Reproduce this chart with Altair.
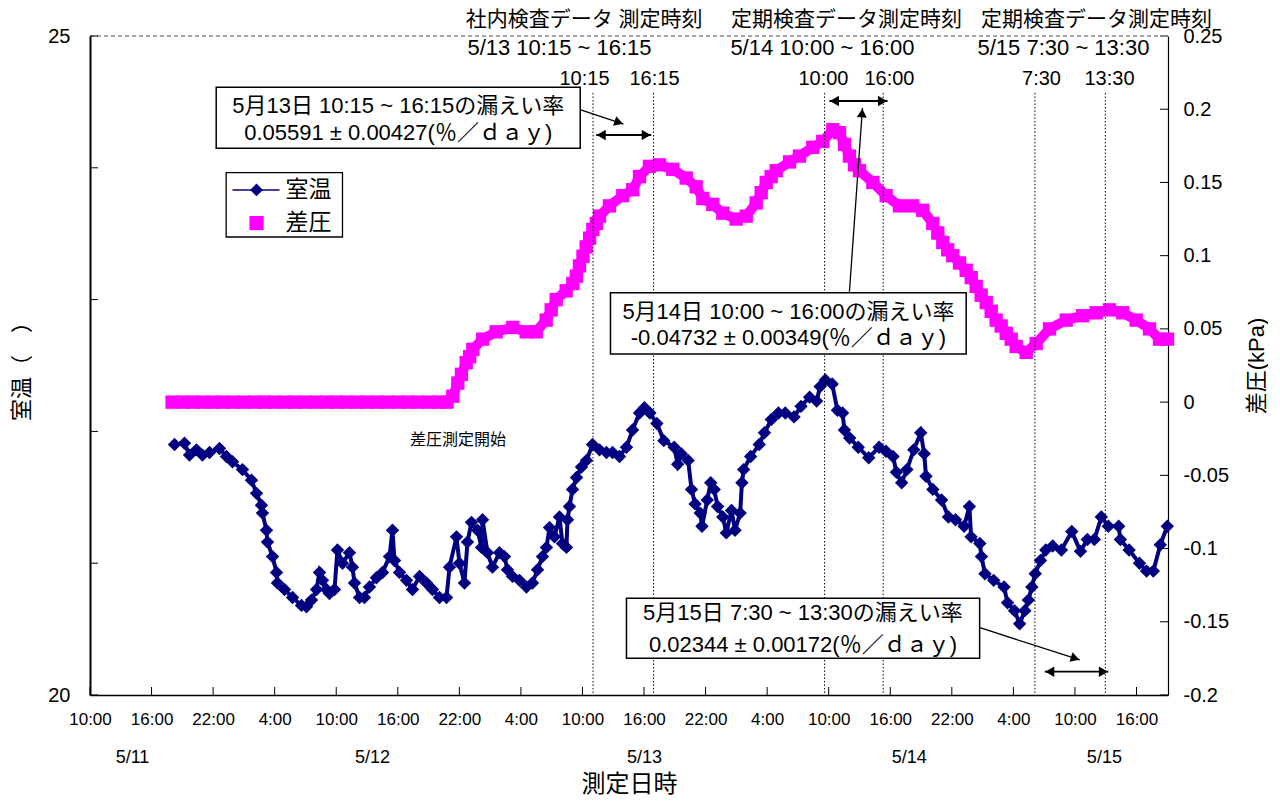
import altair as alt
import pandas as pd

# ---------------- data (hours counted from 5/11 0:00) ----------------
temp_hours = [18.24, 19.21, 19.70, 20.38, 20.96, 21.65, 22.62, 23.30, 23.89, 24.86,
              25.74, 26.23, 26.71, 26.81, 27.20, 27.30, 27.79, 28.18, 28.27, 28.96,
              29.74, 30.61, 31.10, 31.59, 32.08, 32.37, 32.66, 33.05, 33.34, 33.83,
              34.12, 34.61, 35.29, 35.58, 35.78, 36.27, 36.75, 37.24, 37.92, 38.51,
              39.19, 39.48, 39.68, 40.17, 40.85, 41.43, 42.12, 42.80, 43.38, 44.06,
              44.75, 45.04, 45.72, 46.01, 46.50, 46.79, 47.18, 47.77, 48.16, 48.26,
              48.74, 49.23, 49.91, 50.40, 50.69, 51.18, 51.86, 52.54, 53.13, 53.62,
              54.10, 54.49, 54.79, 55.27, 55.76, 56.05, 56.44, 56.54, 56.73, 57.03,
              57.42, 57.90, 58.39, 58.98, 59.66, 60.34, 60.93, 61.61, 62.29, 62.88,
              63.56, 64.04,
              64.57, 65.25, 65.93, 66.94, 67.28, 67.62, 68.30, 68.63, 68.98, 69.48,
              69.65, 70.16, 70.50, 70.84, 71.17, 71.68, 72.02, 72.53, 72.87, 73.37,
              73.54, 73.71, 74.39, 75.23, 75.74, 76.41, 77.10, 77.77, 78.62, 79.30,
              80.14, 80.82, 81.16, 81.67, 82.34, 82.85, 83.35, 83.53, 84.04, 84.88,
              85.90, 86.91, 87.58, 88.27, 88.60, 89.11, 89.62, 90.29, 90.97, 91.31,
              91.48, 92.15, 93.00, 93.67, 94.36, 95.20, 95.71, 95.88, 96.73, 96.89,
              97.23, 98.08, 99.09, 99.43, 100.11, 100.61, 101.12, 101.46, 101.80, 102.13,
              102.64, 103.16, 103.83, 104.68, 105.69, 106.54, 107.21, 107.89, 108.57, 109.25,
              110.26, 110.43, 111.28, 112.29, 112.98, 113.64, 114.32, 115.00]
temp_values = [21.90, 21.91, 21.82, 21.86, 21.82, 21.84, 21.87, 21.81, 21.77, 21.71,
               21.63, 21.53, 21.44, 21.38, 21.25, 21.16, 21.05, 20.93, 20.85, 20.80,
               20.74, 20.68, 20.67, 20.72, 20.80, 20.93, 20.87, 20.80, 20.77, 20.80,
               21.10, 21.00, 21.08, 20.97, 20.85, 20.74, 20.74, 20.82, 20.89, 20.93,
               21.05, 21.25, 21.02, 20.93, 20.87, 20.80, 20.90, 20.85, 20.80, 20.74,
               20.74, 20.97, 21.20, 21.00, 20.85, 21.16, 21.31, 21.25, 21.12, 21.33,
               21.08, 20.97, 21.08, 21.05, 20.95, 20.90, 20.87, 20.82, 20.85, 20.95,
               21.05, 21.12, 21.27, 21.20, 21.35, 21.15, 21.12, 21.33, 21.43, 21.56,
               21.65, 21.73, 21.78, 21.90, 21.86, 21.84, 21.84, 21.81, 21.88, 22.01,
               22.14, 22.18,
               22.14, 22.06, 21.93, 21.88, 21.75, 21.83, 21.78, 21.56, 21.45, 21.38,
               21.28, 21.48, 21.61, 21.56, 21.43, 21.35, 21.23, 21.40, 21.25, 21.38,
               21.61, 21.71, 21.81, 21.90, 21.99, 22.09, 22.14, 22.14, 22.11, 22.19,
               22.26, 22.23, 22.34, 22.39, 22.36, 22.16, 22.14, 22.01, 21.95, 21.88,
               21.80, 21.88, 21.85, 21.81, 21.69, 21.61, 21.71, 21.86, 21.99, 21.83,
               21.66, 21.56, 21.48, 21.35, 21.33, 21.28, 21.43, 21.20, 21.15, 21.05,
               20.92, 20.87, 20.82, 20.70, 20.64, 20.54, 20.64, 20.72, 20.82, 20.92,
               21.02, 21.10, 21.13, 21.10, 21.24, 21.09, 21.18, 21.18, 21.35, 21.28,
               21.28, 21.18, 21.10, 21.00, 20.94, 20.94, 21.14, 21.28]

press_hours = [18, 19, 20, 21, 22, 23, 24, 25, 26, 27, 28, 29, 30, 31, 32, 33, 34, 35,
               36, 37, 38, 39, 40, 41, 42, 43, 44, 44.8,
               45.36, 45.85, 46.2, 46.67, 47.0, 47.31, 48.28, 49.59, 51.21, 52.51, 53.49, 54.46,
               54.95, 55.44, 56.41, 57.06, 57.4, 57.71, 58.05, 58.36, 58.7, 59.01, 59.35, 59.66,
               60.63, 61.93, 62.90, 63.56, 64.53, 65.51, 66.80, 68.11, 69.08, 69.73,
               70.70, 71.68, 72.98, 73.96, 74.93, 75.42, 75.91, 76.39, 76.88, 78.18,
               79.15, 80.45, 81.42, 82.40, 83.05, 83.54, 84.02, 84.51, 85.00, 86.30,
               87.60, 88.90, 90.19, 91.17, 92.14, 92.63, 93.12, 93.60, 94.09, 94.75,
               95.40, 95.89, 96.37, 96.86, 97.35, 97.84, 98.32, 98.81, 99.30, 99.79,
               100.27, 101.25, 102.22, 103.52, 105.15, 106.76, 108.07, 109.37, 110.66,
               111.97, 113.27, 114.24, 115.02]
press_values = [0, 0, 0, 0, 0, 0, 0, 0, 0, 0, 0, 0, 0, 0, 0, 0, 0, 0,
                0, 0, 0, 0, 0, 0, 0, 0, 0, 0,
                0.004, 0.013, 0.019, 0.027, 0.031, 0.036, 0.043, 0.048, 0.051, 0.048, 0.048, 0.056,
                0.063, 0.070, 0.076, 0.081, 0.086, 0.093, 0.0996, 0.106, 0.112, 0.118, 0.122, 0.127,
                0.134, 0.141, 0.145, 0.154, 0.161, 0.162, 0.159, 0.153, 0.147, 0.139,
                0.135, 0.129, 0.125, 0.127, 0.136, 0.143, 0.150, 0.154, 0.158, 0.164,
                0.168, 0.174, 0.178, 0.186, 0.184, 0.176, 0.168, 0.162, 0.158, 0.150,
                0.141, 0.134, 0.134, 0.131, 0.122, 0.1155, 0.109, 0.104, 0.100, 0.095,
                0.090, 0.085, 0.079, 0.073, 0.068, 0.062, 0.056, 0.052, 0.047, 0.043,
                0.038, 0.034, 0.040, 0.050, 0.056, 0.059, 0.061, 0.063, 0.061,
                0.056, 0.050, 0.043, 0.043]

x_ticks = [10, 16, 22, 28, 34, 40, 46, 52, 58, 64, 70, 76, 82, 88, 94, 100, 106, 112]
t_ticks = [20, 21, 22, 23, 24, 25]
p_ticks = [-0.2, -0.15, -0.1, -0.05, 0, 0.05, 0.1, 0.15, 0.2, 0.25]

date_labels = ["5/11", "5/12", "5/13", "5/14", "5/15"]
date_hours = [14.14, 37.53, 64.04, 89.86, 108.87]
date_level = 19.52

# measurement-time marker lines
vline_hours = [59.03, 64.93, 81.60, 87.31, 102.10, 108.96]
vline_top = 24.568

# header texts
head1_text = ["社内検査データ 測定時刻", "定期検査データ測定時刻", "定期検査データ測定時刻"]
head1_hours = [58.16, 83.73, 108.10]
head1_level = 25.122
head2_text = ["5/13  10:15 ~ 16:15", "5/14 10:00 ~ 16:00", "5/15 7:30 ~ 13:30"]
head2_hours = [55.76, 81.39, 104.88]
head2_level = 24.909
head3_text = ["10:15", "16:15", "10:00", "16:00", "7:30", "13:30"]
head3_hours = [58.20, 65.02, 81.49, 87.92, 102.74, 109.37]
head3_level = 24.674

# double-headed interval arrows
span_start = [59.34, 82.07, 103.06]
span_end = [64.70, 87.73, 109.26]
span_level = [24.249, 24.507, 20.177]

# pointer arrows (start -> tip)
ptr_h = [57.39, 84.02, 96.21]
ptr_v = [24.451, 23.060, 20.524]
ptr_h2 = [62.00, 85.29, 106.48]
ptr_v2 = [24.332, 24.454, 20.266]

# annotation boxes
box_h = [22.30, 60.73, 62.29]
box_h2 = [57.78, 95.40, 96.71]
box_v = [24.611, 23.052, 20.734]
box_v2 = [24.148, 22.587, 20.278]
box_text = ["5月13日 10:15 ~ 16:15の漏えい率", "0.05591 ± 0.00427(％／ｄａｙ)",
            "5月14日 10:00 ~ 16:00の漏えい率", "-0.04732 ± 0.00349(％／ｄａｙ)",
            "5月15日 7:30 ~ 13:30の漏えい率", "0.02344 ± 0.00172(％／ｄａｙ)"]
box_text_h = [40.04, 40.04, 78.07, 78.07, 79.49, 79.49]
box_text_v = [24.469, 24.264, 22.908, 22.709, 20.622, 20.379]

# legend
legend_box_h, legend_box_h2 = 23.27, 34.61
legend_box_v, legend_box_v2 = 23.963, 23.475
legend_line_h, legend_line_h2 = 23.89, 28.47
legend_sym_h = 26.23
legend_text_h = 29.05
legend_rows_v = [23.832, 23.581]
legend_labels = ["室温", "差圧"]

start_note = "差圧測定開始"
start_note_h, start_note_v = 45.87, 21.935

# ---------------- styling ----------------
FONT = "'Liberation Sans', 'Noto Sans CJK JP', sans-serif"
NAVY = "#000080"
MAGENTA = "#FF00FF"
W, H = 1078, 659

xscale = alt.Scale(domain=[10, 115.07], nice=False, zero=False)
tscale = alt.Scale(domain=[20, 25], nice=False, zero=False)
pscale = alt.Scale(domain=[-0.2, 0.25], nice=False, zero=False)

xaxis = alt.Axis(values=x_ticks, labelExpr="(datum.value % 24) + ':00'", title="測定日時",
                 grid=False, ticks=False, tickSize=0, domainColor="black", domainWidth=1.5,
                 labelFont=FONT, labelFontSize=17, labelColor="black", labelPadding=16,
                 labelFlush=False, labelOverlap=False, labelAngle=0,
                 titleFont=FONT, titleFontSize=24, titleFontWeight="normal", titleColor="black",
                 titlePadding=45)
taxis = alt.Axis(orient="left", values=t_ticks,
                 labelExpr="datum.value == 20 || datum.value == 25 ? datum.label : ''",
                 title="室温（　）", grid=False, ticks=False, tickSize=0,
                 domainColor="black", domainWidth=2, labelFont=FONT, labelFontSize=20,
                 labelColor="black", labelPadding=20, labelFlush=False, labelOverlap=False,
                 titleFont=FONT, titleFontSize=22, titleFontWeight="normal",
                 titleColor="black", titlePadding=14)
paxis = alt.Axis(orient="right", values=p_ticks,
                 labelExpr="datum.value < 0 ? '-' + format(-datum.value, '.2~f') : format(datum.value, '.2~f')",
                 title="差圧(kPa)", grid=False, ticks=False, tickSize=0,
                 domainColor="black", domainWidth=1.2, labelFont=FONT, labelFontSize=20,
                 labelColor="black", labelPadding=15, labelFlush=False, labelOverlap=False,
                 titleFont=FONT, titleFontSize=22, titleFontWeight="normal", titleAngle=270,
                 titleColor="black", titlePadding=40)


def X(f="h"):
    return alt.X(f"{f}:Q", scale=xscale, axis=xaxis)


def YT(f="v"):
    return alt.Y(f"{f}:Q", scale=tscale, axis=taxis)


def YP(f="p"):
    return alt.Y(f"{f}:Q", scale=pscale, axis=paxis)


# ---------------- pressure group ----------------
press_df = pd.DataFrame({"h": press_hours, "p": press_values})
press_band = alt.Chart(press_df).mark_line(color=MAGENTA, strokeWidth=10, strokeCap="square").encode(
    x=X(), y=YP())
press_pts = alt.Chart(press_df).mark_square(size=178, color=MAGENTA, opacity=1, strokeWidth=0).encode(
    x=X(), y=YP())
rticks = alt.Chart(pd.DataFrame({"p": p_ticks})).mark_rule(color="black", strokeWidth=1).encode(
    y=YP(), x=alt.value(W - 8), x2=alt.value(W))
press_group = alt.layer(press_band, press_pts, rticks)

# ---------------- temperature + annotation group ----------------
temp_df = pd.DataFrame({"h": temp_hours, "v": temp_values})
tline = alt.Chart(temp_df).mark_line(color=NAVY, strokeWidth=4).encode(x=X(), y=YT())
tpts = alt.Chart(temp_df).mark_point(shape="diamond", filled=True, size=180, color=NAVY,
                                     opacity=1, strokeWidth=0).encode(x=X(), y=YT())

lticks = alt.Chart(pd.DataFrame({"v": t_ticks})).mark_rule(color="black", strokeWidth=1).encode(
    y=YT(), x=alt.value(0), x2=alt.value(8))
bticks = alt.Chart(pd.DataFrame({"h": x_ticks})).mark_rule(color="black", strokeWidth=1).encode(
    x=X(), y=alt.value(H - 8), y2=alt.value(H))
top_border = alt.Chart(pd.DataFrame({"v": [25]})).mark_rule(color="#888888", strokeWidth=1.5,
                                                               strokeDash=[4, 3]).encode(
    y=YT(), x=alt.value(0), x2=alt.value(W))

vl_df = pd.DataFrame({"h": vline_hours, "v": [vline_top for _ in vline_hours],
                      "v2": [20 for _ in vline_hours]})
vlines = alt.Chart(vl_df).mark_rule(color="black", strokeWidth=1, strokeDash=[1.5, 2]).encode(
    x=X(), y=YT(), y2="v2:Q")

span_df = pd.DataFrame({"h": span_start, "h2": span_end, "v": span_level})
span_line = alt.Chart(span_df).mark_rule(color="black", strokeWidth=1.8).encode(x=X(), x2="h2:Q", y=YT())
span_r = alt.Chart(span_df).mark_point(shape="triangle-right", filled=True, size=110, color="black",
                                        opacity=1, xOffset=-5).encode(x=X("h2"), y=YT())
span_l = alt.Chart(span_df).mark_point(shape="triangle-left", filled=True, size=110, color="black",
                                        opacity=1, xOffset=5).encode(x=X("h"), y=YT())

ptr_df = pd.DataFrame({"h": ptr_h, "v": ptr_v, "h2": ptr_h2, "v2": ptr_v2})
ptr_lines = alt.Chart(ptr_df).mark_rule(color="black", strokeWidth=1.3).encode(
    x=X(), y=YT(), x2="h2:Q", y2="v2:Q")
ptr1 = alt.Chart(ptr_df.iloc[[0]]).mark_point(shape="triangle-right", filled=True, size=100,
                                               color="black", opacity=1, angle=18,
                                               xOffset=-4.7, yOffset=-1.6).encode(x=X("h2"), y=YT("v2"))
ptr2 = alt.Chart(ptr_df.iloc[[1]]).mark_point(shape="triangle-up", filled=True, size=100,
                                               color="black", opacity=1, angle=4,
                                               xOffset=-0.4, yOffset=5).encode(x=X("h2"), y=YT("v2"))
ptr3 = alt.Chart(ptr_df.iloc[[2]]).mark_point(shape="triangle-right", filled=True, size=100,
                                               color="black", opacity=1, angle=18,
                                               xOffset=-4.7, yOffset=-1.6).encode(x=X("h2"), y=YT("v2"))

box_df = pd.DataFrame({"h": box_h, "h2": box_h2, "v": box_v, "v2": box_v2})
boxes = alt.Chart(box_df).mark_rect(fill="white", stroke="black", strokeWidth=1.5).encode(
    x=X(), x2="h2:Q", y=YT(), y2="v2:Q")
btext_df = pd.DataFrame({"h": box_text_h, "v": box_text_v, "t": box_text})
btexts = alt.Chart(btext_df).mark_text(font=FONT, fontSize=22, color="black", align="center",
                                       baseline="middle").encode(x=X(), y=YT(), text="t:N")

h1 = alt.Chart(pd.DataFrame({"h": head1_hours, "v": [head1_level for _ in head1_hours], "t": head1_text})
               ).mark_text(font=FONT, fontSize=21, color="black", baseline="middle").encode(
    x=X(), y=YT(), text="t:N")
h2 = alt.Chart(pd.DataFrame({"h": head2_hours, "v": [head2_level for _ in head2_hours], "t": head2_text})
               ).mark_text(font=FONT, fontSize=22, color="black", baseline="middle").encode(
    x=X(), y=YT(), text="t:N")
h3 = alt.Chart(pd.DataFrame({"h": head3_hours, "v": [head3_level for _ in head3_hours], "t": head3_text})
               ).mark_text(font=FONT, fontSize=20, color="black", baseline="middle").encode(
    x=X(), y=YT(), text="t:N")

dates = alt.Chart(pd.DataFrame({"h": date_hours, "v": [date_level for _ in date_hours], "t": date_labels})
                  ).mark_text(font=FONT, fontSize=18, color="black", baseline="middle").encode(
    x=X(), y=YT(), text="t:N")

note = alt.Chart(pd.DataFrame({"h": [start_note_h], "v": [start_note_v], "t": [start_note]})
                 ).mark_text(font=FONT, fontSize=16, color="black", baseline="middle").encode(
    x=X(), y=YT(), text="t:N")

leg_box = alt.Chart(pd.DataFrame({"h": [legend_box_h], "h2": [legend_box_h2],
                                  "v": [legend_box_v], "v2": [legend_box_v2]})
                    ).mark_rect(fill="white", stroke="black", strokeWidth=1.3).encode(
    x=X(), x2="h2:Q", y=YT(), y2="v2:Q")
leg_line = alt.Chart(pd.DataFrame({"h": [legend_line_h], "h2": [legend_line_h2], "v": [legend_rows_v[0]]})
                     ).mark_rule(color=NAVY, strokeWidth=1.5).encode(x=X(), x2="h2:Q", y=YT())
leg_dia = alt.Chart(pd.DataFrame({"h": [legend_sym_h], "v": [legend_rows_v[0]]})
                    ).mark_point(shape="diamond", filled=True, size=165, color=NAVY, opacity=1,
                                 strokeWidth=0).encode(x=X(), y=YT())
leg_sq = alt.Chart(pd.DataFrame({"h": [legend_sym_h], "v": [legend_rows_v[1]]})
                   ).mark_square(size=200, color=MAGENTA, opacity=1, strokeWidth=0).encode(x=X(), y=YT())
leg_txt = alt.Chart(pd.DataFrame({"h": [legend_text_h, legend_text_h], "v": legend_rows_v, "t": legend_labels})
                    ).mark_text(font=FONT, fontSize=23, color="black", align="left",
                                baseline="middle").encode(x=X(), y=YT(), text="t:N")

temp_group = alt.layer(top_border, lticks, bticks, tline, tpts, vlines, span_line, span_r, span_l,
                       ptr_lines, ptr1, ptr2, ptr3, boxes, btexts, h1, h2, h3, dates, note,
                       leg_box, leg_line, leg_dia, leg_sq, leg_txt)

chart = alt.layer(press_group, temp_group).resolve_scale(y="independent").properties(
    width=W, height=H,
    autosize=alt.AutoSizeParams(type="none"),
    padding={"left": 82, "top": 28, "right": 100, "bottom": 101},
    background="white",
).configure_view(stroke=None)

chart.save("out.html", embed_options={"renderer": "svg", "actions": False})
